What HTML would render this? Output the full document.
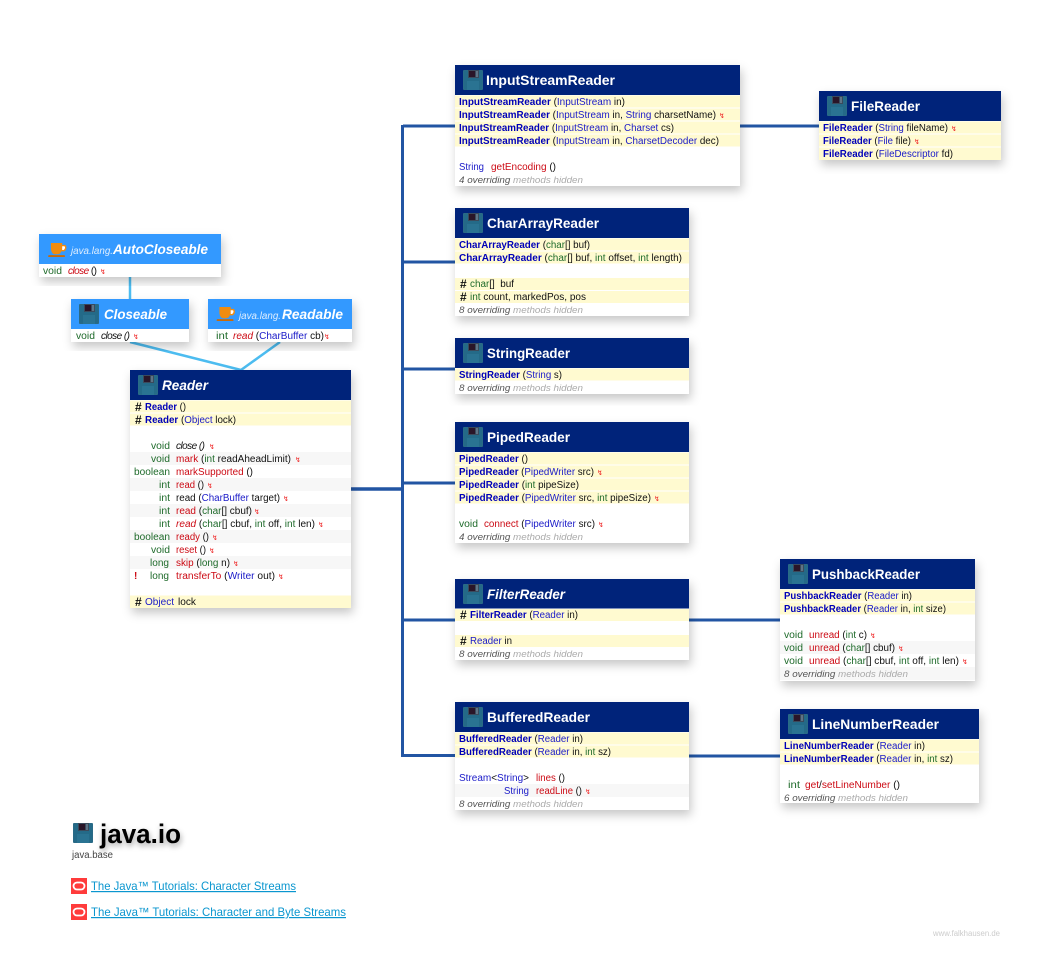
<!DOCTYPE html>
<html><head><meta charset="utf-8"><title>java.io Reader</title>
<style>
html,body{margin:0;padding:0;background:#fff;width:1057px;height:979px;overflow:hidden}
svg{display:block}
text{font-family:"Liberation Sans",sans-serif;font-size:10px;fill:#111;white-space:pre}
.b{fill:#1a1ac8}.bb{fill:#0000b8;font-weight:bold}.g{fill:#1e6a2a}.r{fill:#cc0a14}.i{font-style:italic}
.o{fill:#555;font-style:italic;font-size:9.5px}.h{fill:#aaa;font-style:italic;font-size:9.5px}
.t{fill:#fff;font-weight:bold;font-size:14px}.p{fill:#dfeeff;font-style:italic;font-size:10px}
.m{fill:#e22;font-size:7px;font-family:"DejaVu Sans",sans-serif}
.y{fill:#fffad0}.a{fill:#f7f7f7}.d{fill:#00237a}.l{fill:#3399ff}
.q{font-size:12px;font-weight:bold}
.n{font-size:12px;fill:#0a96cf;text-decoration:underline}
</style></head><body>
<svg width="1057" height="979" viewBox="0 0 1057 979" xmlns="http://www.w3.org/2000/svg">
<defs>
<filter id="s" x="-15%" y="-15%" width="130%" height="135%"><feDropShadow dx="2" dy="5" stdDeviation="5" flood-color="#000" flood-opacity=".22"/></filter>
<filter id="ts" x="-20%" y="-40%" width="140%" height="200%"><feDropShadow dx="1" dy="3" stdDeviation="3" flood-color="#000" flood-opacity=".35"/></filter>
<symbol id="f" viewBox="0 0 20 20"><rect width="20" height="20" rx="1" fill="#2a6a86"/><rect x="1" y="1" width="18" height="18" fill="#246a88"/><rect x="5" y="0" width="11" height="8" fill="#3a4a5c"/><rect x="6" y="1" width="6" height="6" fill="#2a1528"/><rect x="13" y="1" width="2" height="6" fill="#5f7486"/><rect x="4" y="11" width="12" height="9" fill="#2a7392"/></symbol>
<symbol id="c" viewBox="0 0 20 16"><path d="M3 1h12v2h2.500q2 0 2 3t-2.500 4H14q-1 3-4 3H7Q4 13 3 8z" fill="#f08c10"/><path d="M15 4.500h2q1 0 1 1.500t-1.500 2.500H15z" fill="#fff"/><rect x="0" y="14" width="18" height="2" rx="1" fill="#c96a08"/></symbol>
</defs>

<!-- connectors -->
<g stroke="#2255a3" fill="none">
<path stroke-width="3" d="M402.500 125V757"/>
<path stroke-width="3.500" d="M351 489H403"/>
<path stroke-width="3" d="M403 126H455M403 262H455M403 369H455M403 483H455M403 620H455M403 755.500H455M740 126H819M689 620H780M689 756H780"/>
</g>
<g stroke="#4cbcf0" stroke-width="2.500" fill="none">
<path d="M130 277V299M130 342L241 370M280 342L241 370"/>
</g>

<!-- AutoCloseable -->
<rect x="39" y="234" width="182" height="43" fill="#fff" filter="url(#s)"/>
<rect class="l" x="39" y="234" width="182" height="30"/>
<use href="#c" x="48" y="242" width="19" height="15"/>
<text class="p" x="71" y="254" textLength="42" lengthAdjust="spacingAndGlyphs">java.lang.</text>
<text class="t i" x="113" y="254" textLength="95" lengthAdjust="spacingAndGlyphs">AutoCloseable</text>
<text class="g" x="43" y="274" textLength="19" lengthAdjust="spacingAndGlyphs">void</text>
<text x="68" y="274" textLength="29" lengthAdjust="spacing"><tspan class="r i">close</tspan> ()</text><text class="m" x="100" y="274">↯</text>

<!-- Closeable -->
<rect x="71" y="299" width="118" height="43" fill="#fff" filter="url(#s)"/>
<rect class="l" x="71" y="299" width="118" height="30"/>
<use href="#f" x="79" y="304" width="20" height="20"/>
<text class="t i" x="104" y="319" textLength="63" lengthAdjust="spacingAndGlyphs">Closeable</text>
<text class="g" x="76" y="339" textLength="19" lengthAdjust="spacingAndGlyphs">void</text>
<text class="i" x="101" y="339" textLength="29" lengthAdjust="spacing">close ()</text><text class="m" x="133" y="339">↯</text>

<!-- Readable -->
<rect x="208" y="299" width="144" height="43" fill="#fff" filter="url(#s)"/>
<rect class="l" x="208" y="299" width="144" height="30"/>
<use href="#c" x="216" y="306" width="20" height="15"/>
<text class="p" x="239" y="319" textLength="42" lengthAdjust="spacingAndGlyphs">java.lang.</text>
<text class="t i" x="282" y="319" textLength="61" lengthAdjust="spacingAndGlyphs">Readable</text>
<text class="g" x="216" y="339" textLength="12" lengthAdjust="spacingAndGlyphs">int</text>
<text x="233" y="339" textLength="91" lengthAdjust="spacingAndGlyphs"><tspan class="r i">read</tspan> (<tspan class="b">CharBuffer</tspan> cb)</text><text class="m" x="324" y="339">↯</text>

<!-- Reader -->
<rect x="130" y="370" width="221" height="238" fill="#fff" filter="url(#s)"/>
<rect class="d" x="130" y="370" width="221" height="30"/>
<use href="#f" x="138" y="375" width="20" height="20"/>
<text class="t i" x="162" y="390" textLength="46" lengthAdjust="spacingAndGlyphs">Reader</text>
<rect class="y" x="130" y="400.500" width="221" height="12"/><rect class="y" x="130" y="413.500" width="221" height="12"/>
<rect class="a" x="130" y="452" width="221" height="13"/><rect class="a" x="130" y="478" width="221" height="13"/><rect class="a" x="130" y="504" width="221" height="13"/><rect class="a" x="130" y="530" width="221" height="13"/><rect class="a" x="130" y="556" width="221" height="13"/>
<rect class="y" x="130" y="595.500" width="221" height="12.500"/>
<text class="q" x="135" y="411">#</text>
<text x="145" y="410" textLength="41" lengthAdjust="spacingAndGlyphs"><tspan class="bb">Reader</tspan> ()</text>
<text class="q" x="135" y="424">#</text>
<text x="145" y="423" textLength="91" lengthAdjust="spacingAndGlyphs"><tspan class="bb">Reader</tspan> (<tspan class="b">Object</tspan> lock)</text>
<text class="g" x="151" y="449" textLength="19" lengthAdjust="spacingAndGlyphs">void</text>
<text class="i" x="176" y="449" textLength="29" lengthAdjust="spacing">close ()</text><text class="m" x="209" y="449">↯</text>
<text class="g" x="151" y="462" textLength="19" lengthAdjust="spacingAndGlyphs">void</text>
<text x="176" y="462" textLength="115" lengthAdjust="spacingAndGlyphs"><tspan class="r">mark</tspan> (<tspan class="g">int</tspan> readAheadLimit)</text><text class="m" x="295" y="462">↯</text>
<text class="g" x="134" y="475" textLength="36" lengthAdjust="spacingAndGlyphs">boolean</text>
<text x="176" y="475" textLength="77" lengthAdjust="spacingAndGlyphs"><tspan class="r">markSupported</tspan> ()</text>
<text class="g" x="159" y="488" textLength="11" lengthAdjust="spacingAndGlyphs">int</text>
<text x="176" y="488" textLength="28" lengthAdjust="spacingAndGlyphs"><tspan class="r">read</tspan> ()</text><text class="m" x="207" y="488">↯</text>
<text class="g" x="159" y="501" textLength="11" lengthAdjust="spacingAndGlyphs">int</text>
<text x="176" y="501" textLength="104" lengthAdjust="spacingAndGlyphs">read (<tspan class="b">CharBuffer</tspan> target)</text><text class="m" x="283" y="501">↯</text>
<text class="g" x="159" y="514" textLength="11" lengthAdjust="spacingAndGlyphs">int</text>
<text x="176" y="514" textLength="76" lengthAdjust="spacingAndGlyphs"><tspan class="r">read</tspan> (<tspan class="g">char</tspan>[] cbuf)</text><text class="m" x="254" y="514">↯</text>
<text class="g" x="159" y="527" textLength="11" lengthAdjust="spacingAndGlyphs">int</text>
<text x="176" y="527" textLength="139" lengthAdjust="spacingAndGlyphs"><tspan class="r i">read</tspan> (<tspan class="g">char</tspan>[] cbuf, <tspan class="g">int</tspan> off, <tspan class="g">int</tspan> len)</text><text class="m" x="318" y="527">↯</text>
<text class="g" x="134" y="540" textLength="36" lengthAdjust="spacingAndGlyphs">boolean</text>
<text x="176" y="540" textLength="33" lengthAdjust="spacingAndGlyphs"><tspan class="r">ready</tspan> ()</text><text class="m" x="212" y="540">↯</text>
<text class="g" x="151" y="553" textLength="19" lengthAdjust="spacingAndGlyphs">void</text>
<text x="176" y="553" textLength="30" lengthAdjust="spacingAndGlyphs"><tspan class="r">reset</tspan> ()</text><text class="m" x="209" y="553">↯</text>
<text class="g" x="150" y="566" textLength="19" lengthAdjust="spacingAndGlyphs">long</text>
<text x="176" y="566" textLength="54" lengthAdjust="spacingAndGlyphs"><tspan class="r">skip</tspan> (<tspan class="g">long</tspan> n)</text><text class="m" x="233" y="566">↯</text>
<text class="r" x="134" y="579" font-weight="bold">!</text>
<text class="g" x="150" y="579" textLength="19" lengthAdjust="spacingAndGlyphs">long</text>
<text x="176" y="579" textLength="99" lengthAdjust="spacingAndGlyphs"><tspan class="r">transferTo</tspan> (<tspan class="b">Writer</tspan> out)</text><text class="m" x="278" y="579">↯</text>
<text class="q" x="135" y="606">#</text>
<text class="b" x="145" y="605" textLength="29" lengthAdjust="spacingAndGlyphs">Object</text>
<text x="178" y="605" textLength="18" lengthAdjust="spacingAndGlyphs">lock</text>

<!-- InputStreamReader -->
<rect x="455" y="65" width="285" height="121" fill="#fff" filter="url(#s)"/>
<rect class="d" x="455" y="65" width="285" height="30"/>
<use href="#f" x="463" y="70" width="20" height="20"/>
<text class="t" x="486" y="85" textLength="129" lengthAdjust="spacingAndGlyphs">InputStreamReader</text>
<rect class="y" x="455" y="95.500" width="285" height="12"/><rect class="y" x="455" y="108.500" width="285" height="12"/><rect class="y" x="455" y="121.500" width="285" height="12"/><rect class="y" x="455" y="134.500" width="285" height="12"/>
<text x="459" y="105" textLength="166" lengthAdjust="spacingAndGlyphs"><tspan class="bb">InputStreamReader</tspan> (<tspan class="b">InputStream</tspan> in)</text>
<text x="459" y="118" textLength="257" lengthAdjust="spacingAndGlyphs"><tspan class="bb">InputStreamReader</tspan> (<tspan class="b">InputStream</tspan> in, <tspan class="b">String</tspan> charsetName)</text><text class="m" x="719" y="118">↯</text>
<text x="459" y="131" textLength="215" lengthAdjust="spacingAndGlyphs"><tspan class="bb">InputStreamReader</tspan> (<tspan class="b">InputStream</tspan> in, <tspan class="b">Charset</tspan> cs)</text>
<text x="459" y="144" textLength="260" lengthAdjust="spacingAndGlyphs"><tspan class="bb">InputStreamReader</tspan> (<tspan class="b">InputStream</tspan> in, <tspan class="b">CharsetDecoder</tspan> dec)</text>
<text class="b" x="459" y="170" textLength="25" lengthAdjust="spacingAndGlyphs">String</text>
<text x="491" y="170" textLength="65" lengthAdjust="spacingAndGlyphs"><tspan class="r">getEncoding</tspan> ()</text>
<text class="o" x="459" y="183" textLength="124" lengthAdjust="spacingAndGlyphs">4 overriding <tspan class="h">methods hidden</tspan></text>

<!-- FileReader -->
<rect x="819" y="91" width="182" height="69" fill="#fff" filter="url(#s)"/>
<rect class="d" x="819" y="91" width="182" height="30"/>
<use href="#f" x="827" y="96" width="20" height="20"/>
<text class="t" x="851" y="111" textLength="69" lengthAdjust="spacingAndGlyphs">FileReader</text>
<rect class="y" x="819" y="121.500" width="182" height="12"/><rect class="y" x="819" y="134.500" width="182" height="12"/><rect class="y" x="819" y="147.500" width="182" height="12.500"/>
<text x="823" y="131" textLength="125" lengthAdjust="spacingAndGlyphs"><tspan class="bb">FileReader</tspan> (<tspan class="b">String</tspan> fileName)</text><text class="m" x="951" y="131">↯</text>
<text x="823" y="144" textLength="88" lengthAdjust="spacingAndGlyphs"><tspan class="bb">FileReader</tspan> (<tspan class="b">File</tspan> file)</text><text class="m" x="914" y="144">↯</text>
<text x="823" y="157" textLength="130" lengthAdjust="spacingAndGlyphs"><tspan class="bb">FileReader</tspan> (<tspan class="b">FileDescriptor</tspan> fd)</text>

<!-- CharArrayReader -->
<rect x="455" y="208" width="234" height="108" fill="#fff" filter="url(#s)"/>
<rect class="d" x="455" y="208" width="234" height="30"/>
<use href="#f" x="463" y="213" width="20" height="20"/>
<text class="t" x="487" y="228" textLength="112" lengthAdjust="spacingAndGlyphs">CharArrayReader</text>
<rect class="y" x="455" y="238.500" width="234" height="12"/><rect class="y" x="455" y="251.500" width="234" height="12"/><rect class="y" x="455" y="278" width="234" height="12"/><rect class="y" x="455" y="291" width="234" height="12"/>
<text x="459" y="248" textLength="131" lengthAdjust="spacingAndGlyphs"><tspan class="bb">CharArrayReader</tspan> (<tspan class="g">char</tspan>[] buf)</text>
<text x="459" y="261" textLength="223" lengthAdjust="spacingAndGlyphs"><tspan class="bb">CharArrayReader</tspan> (<tspan class="g">char</tspan>[] buf, <tspan class="g">int</tspan> offset, <tspan class="g">int</tspan> length)</text>
<text class="q" x="460" y="288">#</text>
<text x="470" y="287" textLength="44" lengthAdjust="spacingAndGlyphs"><tspan class="g">char</tspan>[]  buf</text>
<text class="q" x="460" y="301">#</text>
<text x="470" y="300" textLength="116" lengthAdjust="spacingAndGlyphs"><tspan class="g">int</tspan> count, markedPos, pos</text>
<text class="o" x="459" y="313" textLength="124" lengthAdjust="spacingAndGlyphs">8 overriding <tspan class="h">methods hidden</tspan></text>

<!-- StringReader -->
<rect x="455" y="338" width="234" height="56" fill="#fff" filter="url(#s)"/>
<rect class="d" x="455" y="338" width="234" height="30"/>
<use href="#f" x="463" y="343" width="20" height="20"/>
<text class="t" x="487" y="358" textLength="83" lengthAdjust="spacingAndGlyphs">StringReader</text>
<rect class="y" x="455" y="368.500" width="234" height="12"/>
<text x="459" y="378" textLength="103" lengthAdjust="spacingAndGlyphs"><tspan class="bb">StringReader</tspan> (<tspan class="b">String</tspan> s)</text>
<text class="o" x="459" y="391" textLength="124" lengthAdjust="spacingAndGlyphs">8 overriding <tspan class="h">methods hidden</tspan></text>

<!-- PipedReader -->
<rect x="455" y="422" width="234" height="121" fill="#fff" filter="url(#s)"/>
<rect class="d" x="455" y="422" width="234" height="30"/>
<use href="#f" x="463" y="427" width="20" height="20"/>
<text class="t" x="487" y="442" textLength="83" lengthAdjust="spacingAndGlyphs">PipedReader</text>
<rect class="y" x="455" y="452.500" width="234" height="12"/><rect class="y" x="455" y="465.500" width="234" height="12"/><rect class="y" x="455" y="478.500" width="234" height="12"/><rect class="y" x="455" y="491.500" width="234" height="12"/>
<text x="459" y="462" textLength="69" lengthAdjust="spacingAndGlyphs"><tspan class="bb">PipedReader</tspan> ()</text>
<text x="459" y="475" textLength="135" lengthAdjust="spacingAndGlyphs"><tspan class="bb">PipedReader</tspan> (<tspan class="b">PipedWriter</tspan> src)</text><text class="m" x="597" y="475">↯</text>
<text x="459" y="488" textLength="120" lengthAdjust="spacingAndGlyphs"><tspan class="bb">PipedReader</tspan> (<tspan class="g">int</tspan> pipeSize)</text>
<text x="459" y="501" textLength="192" lengthAdjust="spacingAndGlyphs"><tspan class="bb">PipedReader</tspan> (<tspan class="b">PipedWriter</tspan> src, <tspan class="g">int</tspan> pipeSize)</text><text class="m" x="654" y="501">↯</text>
<text class="g" x="459" y="527" textLength="19" lengthAdjust="spacingAndGlyphs">void</text>
<text x="484" y="527" textLength="111" lengthAdjust="spacingAndGlyphs"><tspan class="r">connect</tspan> (<tspan class="b">PipedWriter</tspan> src)</text><text class="m" x="598" y="527">↯</text>
<text class="o" x="459" y="540" textLength="124" lengthAdjust="spacingAndGlyphs">4 overriding <tspan class="h">methods hidden</tspan></text>

<!-- FilterReader -->
<rect x="455" y="579" width="234" height="81" fill="#fff" filter="url(#s)"/>
<rect class="d" x="455" y="579" width="234" height="29.500"/>
<use href="#f" x="463" y="584" width="20" height="20"/>
<text class="t i" x="487" y="599" textLength="78" lengthAdjust="spacingAndGlyphs">FilterReader</text>
<rect class="y" x="455" y="609" width="234" height="12"/><rect class="y" x="455" y="635" width="234" height="12"/>
<text class="q" x="460" y="619">#</text>
<text x="470" y="618" textLength="108" lengthAdjust="spacingAndGlyphs"><tspan class="bb">FilterReader</tspan> (<tspan class="b">Reader</tspan> in)</text>
<text class="q" x="460" y="645">#</text>
<text x="470" y="644" textLength="42" lengthAdjust="spacingAndGlyphs"><tspan class="b">Reader</tspan> in</text>
<text class="o" x="459" y="657" textLength="124" lengthAdjust="spacingAndGlyphs">8 overriding <tspan class="h">methods hidden</tspan></text>

<!-- BufferedReader -->
<rect x="455" y="702" width="234" height="108" fill="#fff" filter="url(#s)"/>
<rect class="d" x="455" y="702" width="234" height="30"/>
<use href="#f" x="463" y="707" width="20" height="20"/>
<text class="t" x="487" y="722" textLength="103" lengthAdjust="spacingAndGlyphs">BufferedReader</text>
<rect class="y" x="455" y="732.500" width="234" height="12"/><rect class="y" x="455" y="745.500" width="234" height="12"/><rect class="a" x="455" y="784" width="234" height="13"/>
<text x="459" y="742" textLength="124" lengthAdjust="spacingAndGlyphs"><tspan class="bb">BufferedReader</tspan> (<tspan class="b">Reader</tspan> in)</text>
<text x="459" y="755" textLength="152" lengthAdjust="spacingAndGlyphs"><tspan class="bb">BufferedReader</tspan> (<tspan class="b">Reader</tspan> in, <tspan class="g">int</tspan> sz)</text>
<text class="b" x="459" y="781" textLength="70" lengthAdjust="spacingAndGlyphs">Stream<tspan fill="#111">&lt;</tspan>String<tspan fill="#111">&gt;</tspan></text>
<text x="536" y="781" textLength="29" lengthAdjust="spacingAndGlyphs"><tspan class="r">lines</tspan> ()</text>
<text class="b" x="504" y="794" textLength="25" lengthAdjust="spacingAndGlyphs">String</text>
<text x="536" y="794" textLength="46" lengthAdjust="spacingAndGlyphs"><tspan class="r">readLine</tspan> ()</text><text class="m" x="585" y="794">↯</text>
<text class="o" x="459" y="807" textLength="124" lengthAdjust="spacingAndGlyphs">8 overriding <tspan class="h">methods hidden</tspan></text>

<!-- PushbackReader -->
<rect x="780" y="559" width="195" height="122" fill="#fff" filter="url(#s)"/>
<rect class="d" x="780" y="559" width="195" height="30"/>
<use href="#f" x="788" y="564" width="20" height="20"/>
<text class="t" x="812" y="579" textLength="108" lengthAdjust="spacingAndGlyphs">PushbackReader</text>
<rect class="y" x="780" y="589.500" width="195" height="12"/><rect class="y" x="780" y="602.500" width="195" height="12"/><rect class="a" x="780" y="641" width="195" height="13"/><rect class="a" x="780" y="667" width="195" height="13"/>
<text x="784" y="599" textLength="128" lengthAdjust="spacingAndGlyphs"><tspan class="bb">PushbackReader</tspan> (<tspan class="b">Reader</tspan> in)</text>
<text x="784" y="612" textLength="162" lengthAdjust="spacingAndGlyphs"><tspan class="bb">PushbackReader</tspan> (<tspan class="b">Reader</tspan> in, <tspan class="g">int</tspan> size)</text>
<text class="g" x="784" y="638" textLength="19" lengthAdjust="spacingAndGlyphs">void</text>
<text x="809" y="638" textLength="58" lengthAdjust="spacingAndGlyphs"><tspan class="r">unread</tspan> (<tspan class="g">int</tspan> c)</text><text class="m" x="870" y="638">↯</text>
<text class="g" x="784" y="651" textLength="19" lengthAdjust="spacingAndGlyphs">void</text>
<text x="809" y="651" textLength="86" lengthAdjust="spacingAndGlyphs"><tspan class="r">unread</tspan> (<tspan class="g">char</tspan>[] cbuf)</text><text class="m" x="898" y="651">↯</text>
<text class="g" x="784" y="664" textLength="19" lengthAdjust="spacingAndGlyphs">void</text>
<text x="809" y="664" textLength="150" lengthAdjust="spacingAndGlyphs"><tspan class="r">unread</tspan> (<tspan class="g">char</tspan>[] cbuf, <tspan class="g">int</tspan> off, <tspan class="g">int</tspan> len)</text><text class="m" x="962" y="664">↯</text>
<text class="o" x="784" y="677" textLength="124" lengthAdjust="spacingAndGlyphs">8 overriding <tspan class="h">methods hidden</tspan></text>

<!-- LineNumberReader -->
<rect x="780" y="709" width="199" height="94" fill="#fff" filter="url(#s)"/>
<rect class="d" x="780" y="709" width="199" height="30"/>
<use href="#f" x="788" y="714" width="20" height="20"/>
<text class="t" x="812" y="729" textLength="127" lengthAdjust="spacingAndGlyphs">LineNumberReader</text>
<rect class="y" x="780" y="739.500" width="199" height="12"/><rect class="y" x="780" y="752.500" width="199" height="12"/>
<text x="784" y="749" textLength="141" lengthAdjust="spacingAndGlyphs"><tspan class="bb">LineNumberReader</tspan> (<tspan class="b">Reader</tspan> in)</text>
<text x="784" y="762" textLength="169" lengthAdjust="spacingAndGlyphs"><tspan class="bb">LineNumberReader</tspan> (<tspan class="b">Reader</tspan> in, <tspan class="g">int</tspan> sz)</text>
<text class="g" x="788" y="788" textLength="12" lengthAdjust="spacingAndGlyphs">int</text>
<text x="805" y="788" textLength="95" lengthAdjust="spacingAndGlyphs"><tspan class="r">get</tspan>/<tspan class="r">setLineNumber</tspan> ()</text>
<text class="o" x="784" y="801" textLength="124" lengthAdjust="spacingAndGlyphs">6 overriding <tspan class="h">methods hidden</tspan></text>

<!-- footer block -->
<use href="#f" x="73" y="823" width="20" height="20"/>
<text x="100" y="843" style="font-size:27px;font-weight:bold;fill:#000" filter="url(#ts)" textLength="81" lengthAdjust="spacingAndGlyphs">java.io</text>
<text x="72" y="858" textLength="41" lengthAdjust="spacingAndGlyphs" style="fill:#444">java.base</text>
<rect x="71" y="878" width="16" height="16" fill="#ff3b3b"/><rect x="73.500" y="882.500" width="11" height="7" rx="3.500" fill="none" stroke="#fff" stroke-width="1.800"/>
<text class="n" x="91" y="890" textLength="205" lengthAdjust="spacingAndGlyphs">The Java™ Tutorials: Character Streams</text>
<rect x="71" y="904" width="16" height="16" fill="#ff3b3b"/><rect x="73.500" y="908.500" width="11" height="7" rx="3.500" fill="none" stroke="#fff" stroke-width="1.800"/>
<text class="n" x="91" y="916" textLength="255" lengthAdjust="spacingAndGlyphs">The Java™ Tutorials: Character and Byte Streams</text>
<text x="933" y="936" textLength="67" lengthAdjust="spacingAndGlyphs" style="font-size:8px;fill:#ccc">www.falkhausen.de</text>
</svg>
</body></html>
